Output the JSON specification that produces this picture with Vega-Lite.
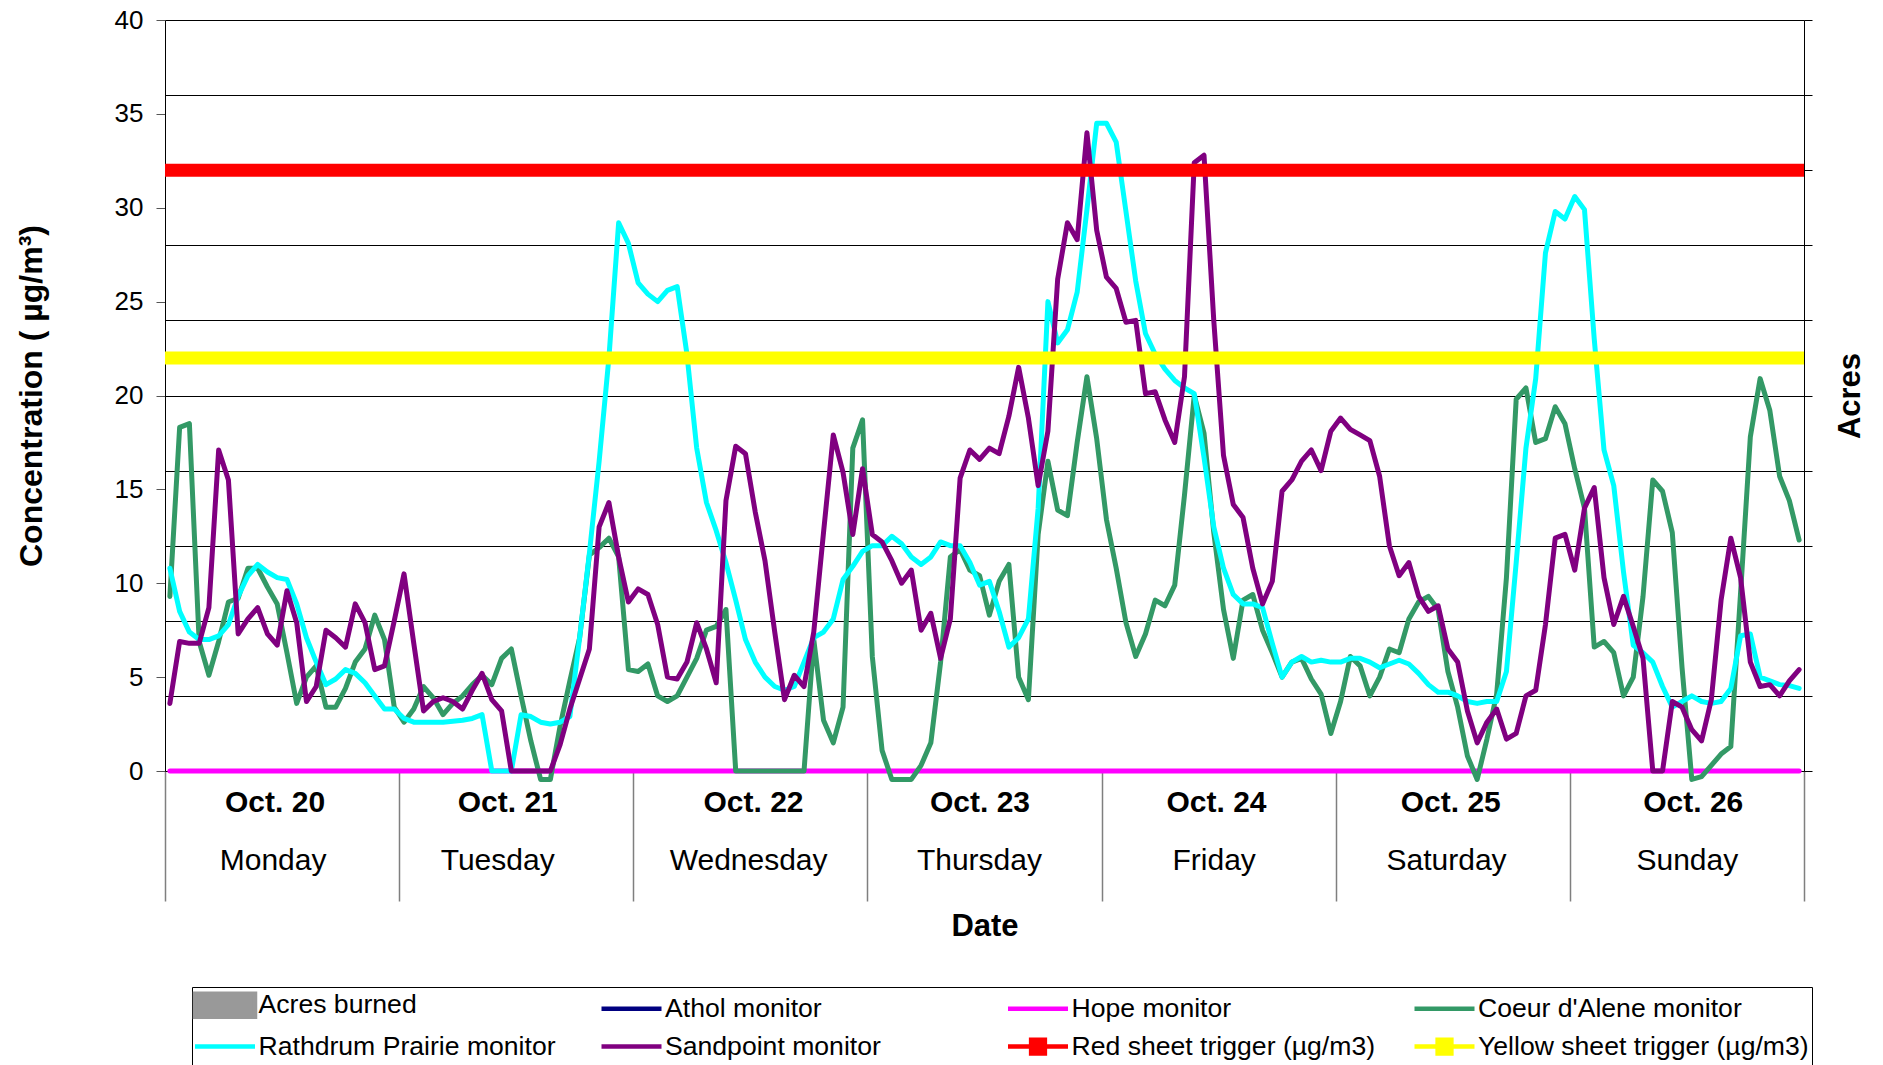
{
"$schema": "https://vega.github.io/schema/vega-lite/v6.json",
"width": 1639, "height": 751,
"autosize": {"type": "none"},
"padding": {"left": 165, "top": 20, "right": 79, "bottom": 294},
"background": "white",
"config": {
  "view": {"stroke": null},
  "font": "Liberation Sans",
  "axis": {"labelFont": "Liberation Sans", "titleFont": "Liberation Sans", "labelColor": "#000", "titleColor": "#000", "domainColor": "#000", "domainWidth": 1, "tickColor": "#000", "labelFlush": false, "labelOverlap": false, "grid": false},
  "legend": {"labelFont": "Liberation Sans"}
},
"data": {"values": [
{"h":0,"cda":9.3,"rp":10.8,"sp":3.6,"hope":0},
{"h":1,"cda":18.3,"rp":8.5,"sp":6.9,"hope":0},
{"h":2,"cda":18.5,"rp":7.4,"sp":6.8,"hope":0},
{"h":3,"cda":6.9,"rp":7.0,"sp":6.8,"hope":0},
{"h":4,"cda":5.1,"rp":7.0,"sp":8.7,"hope":0},
{"h":5,"cda":6.9,"rp":7.2,"sp":17.1,"hope":0},
{"h":6,"cda":9.0,"rp":7.8,"sp":15.5,"hope":0},
{"h":7,"cda":9.2,"rp":9.3,"sp":7.3,"hope":0},
{"h":8,"cda":10.8,"rp":10.4,"sp":8.1,"hope":0},
{"h":9,"cda":10.8,"rp":11.0,"sp":8.7,"hope":0},
{"h":10,"cda":9.8,"rp":10.6,"sp":7.3,"hope":0},
{"h":11,"cda":8.9,"rp":10.3,"sp":6.7,"hope":0},
{"h":12,"cda":6.3,"rp":10.2,"sp":9.6,"hope":0},
{"h":13,"cda":3.6,"rp":8.9,"sp":7.9,"hope":0},
{"h":14,"cda":5.0,"rp":7.1,"sp":3.7,"hope":0},
{"h":15,"cda":5.6,"rp":5.8,"sp":4.5,"hope":0},
{"h":16,"cda":3.4,"rp":4.6,"sp":7.5,"hope":0},
{"h":17,"cda":3.4,"rp":4.9,"sp":7.1,"hope":0},
{"h":18,"cda":4.4,"rp":5.4,"sp":6.6,"hope":0},
{"h":19,"cda":5.8,"rp":5.2,"sp":8.9,"hope":0},
{"h":20,"cda":6.5,"rp":4.7,"sp":7.9,"hope":0},
{"h":21,"cda":8.3,"rp":4.0,"sp":5.4,"hope":0},
{"h":22,"cda":7.0,"rp":3.3,"sp":5.6,"hope":0},
{"h":23,"cda":3.4,"rp":3.3,"sp":8.0,"hope":0},
{"h":24,"cda":2.6,"rp":2.8,"sp":10.5,"hope":0},
{"h":25,"cda":3.3,"rp":2.6,"sp":6.8,"hope":0},
{"h":26,"cda":4.5,"rp":2.6,"sp":3.2,"hope":0},
{"h":27,"cda":3.9,"rp":2.6,"sp":3.7,"hope":0},
{"h":28,"cda":3.0,"rp":2.6,"sp":3.9,"hope":0},
{"h":29,"cda":3.6,"rp":2.65,"sp":3.7,"hope":0},
{"h":30,"cda":4.0,"rp":2.7,"sp":3.3,"hope":0},
{"h":31,"cda":4.6,"rp":2.8,"sp":4.3,"hope":0},
{"h":32,"cda":5.1,"rp":3.0,"sp":5.2,"hope":0},
{"h":33,"cda":4.6,"rp":0,"sp":3.8,"hope":0},
{"h":34,"cda":6.0,"rp":0,"sp":3.2,"hope":0},
{"h":35,"cda":6.5,"rp":0,"sp":0,"hope":0},
{"h":36,"cda":4.0,"rp":3.0,"sp":0,"hope":0},
{"h":37,"cda":1.6,"rp":2.9,"sp":0,"hope":0},
{"h":38,"cda":-0.45,"rp":2.6,"sp":0,"hope":0},
{"h":39,"cda":-0.45,"rp":2.5,"sp":0,"hope":0},
{"h":40,"cda":2.4,"rp":2.6,"sp":1.4,"hope":0},
{"h":41,"cda":4.8,"rp":2.9,"sp":3.3,"hope":0},
{"h":42,"cda":7.1,"rp":7.1,"sp":4.9,"hope":0},
{"h":43,"cda":11.5,"rp":11.6,"sp":6.5,"hope":0},
{"h":44,"cda":11.9,"rp":16.5,"sp":13.0,"hope":0},
{"h":45,"cda":12.4,"rp":22.0,"sp":14.3,"hope":0},
{"h":46,"cda":11.4,"rp":29.2,"sp":11.4,"hope":0},
{"h":47,"cda":5.4,"rp":28.1,"sp":9.0,"hope":0},
{"h":48,"cda":5.3,"rp":26.0,"sp":9.7,"hope":0},
{"h":49,"cda":5.7,"rp":25.4,"sp":9.4,"hope":0},
{"h":50,"cda":4.0,"rp":25.0,"sp":7.8,"hope":0},
{"h":51,"cda":3.7,"rp":25.6,"sp":5.0,"hope":0},
{"h":52,"cda":4.0,"rp":25.8,"sp":4.9,"hope":0},
{"h":53,"cda":5.0,"rp":22.2,"sp":5.8,"hope":0},
{"h":54,"cda":6.0,"rp":17.2,"sp":7.9,"hope":0},
{"h":55,"cda":7.5,"rp":14.3,"sp":6.5,"hope":0},
{"h":56,"cda":7.7,"rp":12.8,"sp":4.7,"hope":0},
{"h":57,"cda":8.6,"rp":11.1,"sp":14.4,"hope":0},
{"h":58,"cda":0,"rp":9.1,"sp":17.3,"hope":0},
{"h":59,"cda":0,"rp":7.0,"sp":16.9,"hope":0},
{"h":60,"cda":0,"rp":5.8,"sp":13.8,"hope":0},
{"h":61,"cda":0,"rp":5.0,"sp":11.2,"hope":0},
{"h":62,"cda":0,"rp":4.5,"sp":7.4,"hope":0},
{"h":63,"cda":0,"rp":4.3,"sp":3.8,"hope":0},
{"h":64,"cda":0,"rp":4.5,"sp":5.1,"hope":0},
{"h":65,"cda":0,"rp":5.8,"sp":4.5,"hope":0},
{"h":66,"cda":7.0,"rp":7.1,"sp":7.4,"hope":0},
{"h":67,"cda":2.7,"rp":7.4,"sp":12.7,"hope":0},
{"h":68,"cda":1.5,"rp":8.1,"sp":17.9,"hope":0},
{"h":69,"cda":3.4,"rp":10.2,"sp":15.9,"hope":0},
{"h":70,"cda":17.2,"rp":10.9,"sp":12.6,"hope":0},
{"h":71,"cda":18.7,"rp":11.7,"sp":16.1,"hope":0},
{"h":72,"cda":6.1,"rp":12.0,"sp":12.6,"hope":0},
{"h":73,"cda":1.1,"rp":12.0,"sp":12.2,"hope":0},
{"h":74,"cda":-0.45,"rp":12.5,"sp":11.2,"hope":0},
{"h":75,"cda":-0.45,"rp":12.1,"sp":10.0,"hope":0},
{"h":76,"cda":-0.45,"rp":11.4,"sp":10.7,"hope":0},
{"h":77,"cda":0.3,"rp":11.0,"sp":7.5,"hope":0},
{"h":78,"cda":1.5,"rp":11.4,"sp":8.4,"hope":0},
{"h":79,"cda":5.8,"rp":12.2,"sp":6.0,"hope":0},
{"h":80,"cda":11.4,"rp":12.0,"sp":8.1,"hope":0},
{"h":81,"cda":11.8,"rp":12.0,"sp":15.6,"hope":0},
{"h":82,"cda":10.7,"rp":11.1,"sp":17.1,"hope":0},
{"h":83,"cda":10.4,"rp":9.9,"sp":16.6,"hope":0},
{"h":84,"cda":8.3,"rp":10.1,"sp":17.2,"hope":0},
{"h":85,"cda":10.1,"rp":8.5,"sp":16.9,"hope":0},
{"h":86,"cda":11.0,"rp":6.6,"sp":18.9,"hope":0},
{"h":87,"cda":5.0,"rp":7.1,"sp":21.5,"hope":0},
{"h":88,"cda":3.8,"rp":8.1,"sp":18.8,"hope":0},
{"h":89,"cda":12.6,"rp":14.0,"sp":15.2,"hope":0},
{"h":90,"cda":16.5,"rp":25.0,"sp":18.1,"hope":0},
{"h":91,"cda":13.9,"rp":22.8,"sp":26.2,"hope":0},
{"h":92,"cda":13.6,"rp":23.5,"sp":29.2,"hope":0},
{"h":93,"cda":17.5,"rp":25.5,"sp":28.3,"hope":0},
{"h":94,"cda":21.0,"rp":29.9,"sp":34.0,"hope":0},
{"h":95,"cda":17.7,"rp":34.5,"sp":28.8,"hope":0},
{"h":96,"cda":13.4,"rp":34.5,"sp":26.3,"hope":0},
{"h":97,"cda":10.8,"rp":33.5,"sp":25.7,"hope":0},
{"h":98,"cda":7.9,"rp":29.8,"sp":23.9,"hope":0},
{"h":99,"cda":6.1,"rp":26.1,"sp":24.0,"hope":0},
{"h":100,"cda":7.3,"rp":23.3,"sp":20.1,"hope":0},
{"h":101,"cda":9.1,"rp":22.2,"sp":20.2,"hope":0},
{"h":102,"cda":8.8,"rp":21.4,"sp":18.7,"hope":0},
{"h":103,"cda":9.9,"rp":20.8,"sp":17.5,"hope":0},
{"h":104,"cda":14.7,"rp":20.4,"sp":21.0,"hope":0},
{"h":105,"cda":20.0,"rp":20.1,"sp":32.4,"hope":0},
{"h":106,"cda":18.0,"rp":16.7,"sp":32.8,"hope":0},
{"h":107,"cda":12.7,"rp":13.0,"sp":24.0,"hope":0},
{"h":108,"cda":8.6,"rp":10.8,"sp":16.8,"hope":0},
{"h":109,"cda":6.0,"rp":9.4,"sp":14.2,"hope":0},
{"h":110,"cda":9.1,"rp":8.9,"sp":13.5,"hope":0},
{"h":111,"cda":9.4,"rp":8.9,"sp":10.8,"hope":0},
{"h":112,"cda":7.5,"rp":8.7,"sp":8.9,"hope":0},
{"h":113,"cda":6.3,"rp":6.8,"sp":10.1,"hope":0},
{"h":114,"cda":5.0,"rp":5.0,"sp":14.9,"hope":0},
{"h":115,"cda":5.8,"rp":5.8,"sp":15.5,"hope":0},
{"h":116,"cda":6.0,"rp":6.1,"sp":16.5,"hope":0},
{"h":117,"cda":4.9,"rp":5.8,"sp":17.1,"hope":0},
{"h":118,"cda":4.1,"rp":5.9,"sp":16.0,"hope":0},
{"h":119,"cda":2.0,"rp":5.8,"sp":18.1,"hope":0},
{"h":120,"cda":3.7,"rp":5.8,"sp":18.8,"hope":0},
{"h":121,"cda":6.1,"rp":6.0,"sp":18.2,"hope":0},
{"h":122,"cda":5.6,"rp":6.0,"sp":17.9,"hope":0},
{"h":123,"cda":4.0,"rp":5.8,"sp":17.6,"hope":0},
{"h":124,"cda":5.0,"rp":5.5,"sp":15.7,"hope":0},
{"h":125,"cda":6.5,"rp":5.7,"sp":12.0,"hope":0},
{"h":126,"cda":6.3,"rp":5.9,"sp":10.4,"hope":0},
{"h":127,"cda":8.1,"rp":5.7,"sp":11.1,"hope":0},
{"h":128,"cda":9.0,"rp":5.2,"sp":9.3,"hope":0},
{"h":129,"cda":9.3,"rp":4.6,"sp":8.5,"hope":0},
{"h":130,"cda":8.6,"rp":4.2,"sp":8.8,"hope":0},
{"h":131,"cda":5.3,"rp":4.2,"sp":6.5,"hope":0},
{"h":132,"cda":3.4,"rp":4.0,"sp":5.8,"hope":0},
{"h":133,"cda":0.8,"rp":3.7,"sp":3.2,"hope":0},
{"h":134,"cda":-0.45,"rp":3.6,"sp":1.5,"hope":0},
{"h":135,"cda":1.7,"rp":3.7,"sp":2.6,"hope":0},
{"h":136,"cda":4.1,"rp":3.7,"sp":3.3,"hope":0},
{"h":137,"cda":10.3,"rp":5.3,"sp":1.7,"hope":0},
{"h":138,"cda":19.8,"rp":11.1,"sp":2.0,"hope":0},
{"h":139,"cda":20.4,"rp":17.2,"sp":4.0,"hope":0},
{"h":140,"cda":17.5,"rp":20.9,"sp":4.3,"hope":0},
{"h":141,"cda":17.7,"rp":27.6,"sp":7.8,"hope":0},
{"h":142,"cda":19.4,"rp":29.8,"sp":12.4,"hope":0},
{"h":143,"cda":18.5,"rp":29.4,"sp":12.6,"hope":0},
{"h":144,"cda":16.1,"rp":30.6,"sp":10.7,"hope":0},
{"h":145,"cda":14.0,"rp":29.9,"sp":14.0,"hope":0},
{"h":146,"cda":6.6,"rp":23.0,"sp":15.1,"hope":0},
{"h":147,"cda":6.9,"rp":17.1,"sp":10.3,"hope":0},
{"h":148,"cda":6.3,"rp":15.2,"sp":7.8,"hope":0},
{"h":149,"cda":4.0,"rp":10.6,"sp":9.3,"hope":0},
{"h":150,"cda":5.0,"rp":6.7,"sp":7.7,"hope":0},
{"h":151,"cda":9.3,"rp":6.3,"sp":6.0,"hope":0},
{"h":152,"cda":15.5,"rp":5.8,"sp":0,"hope":0},
{"h":153,"cda":14.9,"rp":4.5,"sp":0,"hope":0},
{"h":154,"cda":12.7,"rp":3.4,"sp":3.7,"hope":0},
{"h":155,"cda":5.5,"rp":3.7,"sp":3.4,"hope":0},
{"h":156,"cda":-0.45,"rp":4.0,"sp":2.2,"hope":0},
{"h":157,"cda":-0.3,"rp":3.7,"sp":1.6,"hope":0},
{"h":158,"cda":0.3,"rp":3.6,"sp":3.8,"hope":0},
{"h":159,"cda":0.9,"rp":3.7,"sp":9.1,"hope":0},
{"h":160,"cda":1.3,"rp":4.4,"sp":12.4,"hope":0},
{"h":161,"cda":9.5,"rp":7.2,"sp":10.3,"hope":0},
{"h":162,"cda":17.8,"rp":7.3,"sp":5.8,"hope":0},
{"h":163,"cda":20.9,"rp":5.0,"sp":4.5,"hope":0},
{"h":164,"cda":19.2,"rp":4.8,"sp":4.6,"hope":0},
{"h":165,"cda":15.7,"rp":4.6,"sp":4.0,"hope":0},
{"h":166,"cda":14.4,"rp":4.55,"sp":4.8,"hope":0},
{"h":167,"cda":12.3,"rp":4.4,"sp":5.4,"hope":0}
]},
"layer": [
  {
    "mark": {"type": "line", "strokeWidth": 5, "strokeCap": "round", "strokeJoin": "round"},
    "encoding": {
      "x": {"field": "h", "type": "quantitative",
        "scale": {"domain": [-0.5, 167.5], "nice": false, "zero": false},
        "axis": {"orient": "bottom", "values": [-0.5, 23.5, 47.5, 71.5, 95.5, 119.5, 143.5, 167.5], "labels": false, "ticks": true, "tickSize": 130, "tickColor": "#7f7f7f", "tickWidth": 1.5, "domain": true, "domainColor": "#000", "grid": false, "title": null}},
      "y": {"field": "hope", "type": "quantitative",
        "scale": {"domain": [0, 40], "nice": false, "zero": false},
        "axis": {"orient": "left", "values": [0, 5, 10, 15, 20, 25, 30, 35, 40], "grid": false, "tickSize": 9, "tickColor": "#555", "domainColor": "#000", "labelFontSize": 26, "labelPadding": 13, "title": "Concentration ( µg/m³)", "titleFontSize": 32, "titleFontWeight": "bold", "titlePadding": 66}},
      "color": {"datum": "Hope monitor",
        "scale": {"domain": ["Acres burned", "Athol monitor", "Hope monitor", "Coeur d'Alene monitor", "Rathdrum Prairie monitor", "Sandpoint monitor", "Red sheet trigger (µg/m3)", "Yellow sheet trigger (µg/m3)"],
                  "range": ["#999999", "#000080", "#FF00FF", "#339966", "#00FFFF", "#800080", "#FF0000", "#FFFF00"]},
        "legend": {
          "title": " ", "titleOrient": "bottom", "titleFontSize": 20, "titlePadding": 10,
          "orient": "none", "legendX": 27, "legendY": 967,
          "direction": "horizontal", "columns": 4, "gridAlign": "all", "columnPadding": 2.5, "rowPadding": 4.5,
          "padding": 3, "strokeColor": "#000", "fillColor": "#fff",
          "symbolSize": 625, "symbolStrokeWidth": 4.5, "symbolType": "stroke",
          "labelFont": "Liberation Sans", "labelFontSize": 26.6, "labelColor": "#000", "labelOffset": 33.5, "labelLimit": 1000,
          "encode": {"symbols": {"update": {
            "shape": {"signal": "datum.value === 'Acres burned' ? 'M-2.4,-0.92H2.4V0.92H-2.4Z' : (indexof(datum.value, 'trigger') >= 0 ? 'M-2.4,0H2.4M-0.55,-0.55H0.55V0.55H-0.55Z' : 'M-2.4,0H2.4')"},
            "x": {"value": 30},
            "fill": {"signal": "(datum.value === 'Acres burned' || indexof(datum.value, 'trigger') >= 0) ? scale('color', datum.value) : 'transparent'"},
            "stroke": {"signal": "datum.value === 'Acres burned' ? 'transparent' : scale('color', datum.value)"},
            "opacity": {"value": 1}
          }}}
        }}
    }
  },
  {
    "mark": {"type": "line", "strokeWidth": 5, "strokeCap": "round", "strokeJoin": "round"},
    "encoding": {
      "x": {"field": "h", "type": "quantitative",
        "axis": {"orient": "bottom", "values": [10.73, 34.58, 59.77, 82.99, 107.23, 131.24, 156.1], "labelExpr": "'Oct. ' + (20 + floor(datum.value / 24))", "ticks": false, "domain": false, "grid": false, "labelFontSize": 30, "labelFontWeight": "bold", "labelPadding": 16, "title": null}},
      "y": {"field": "cda", "type": "quantitative",
        "axis": {"orient": "right", "values": [0, 4, 8, 12, 16, 20, 24, 28, 32, 36, 40], "grid": true, "gridColor": "#000", "gridWidth": 1, "gridOpacity": 1, "labels": false, "tickSize": 8, "tickColor": "#000", "domainColor": "#000", "title": "Acres", "titleAngle": 270, "titleBaseline": "top", "titleFontSize": 31, "titleFontWeight": "bold", "titlePadding": 23}},
      "color": {"datum": "Coeur d'Alene monitor", "legend": null}
    }
  },
  {
    "mark": {"type": "line", "strokeWidth": 5, "strokeCap": "round", "strokeJoin": "round"},
    "encoding": {
      "x": {"field": "h", "type": "quantitative",
        "axis": {"orient": "bottom", "values": [10.53, 33.55, 59.27, 82.93, 106.99, 130.81, 155.49], "labelExpr": "['Monday', 'Tuesday', 'Wednesday', 'Thursday', 'Friday', 'Saturday', 'Sunday'][floor(datum.value / 24)]", "ticks": false, "domain": false, "grid": false, "labelFontSize": 30, "labelPadding": 74, "title": "Date", "titleFontSize": 31, "titleFontWeight": "bold", "titlePadding": 36}},
      "y": {"field": "rp", "type": "quantitative", "axis": null},
      "color": {"datum": "Rathdrum Prairie monitor", "legend": null}
    }
  },
  {
    "mark": {"type": "line", "strokeWidth": 5, "strokeCap": "round", "strokeJoin": "round"},
    "encoding": {
      "x": {"field": "h", "type": "quantitative", "axis": null},
      "y": {"field": "sp", "type": "quantitative", "axis": null},
      "color": {"datum": "Sandpoint monitor", "legend": null}
    }
  },
  {
    "data": {"values": [
      {"trigger": "Red sheet trigger (µg/m3)", "level": 32},
      {"trigger": "Yellow sheet trigger (µg/m3)", "level": 22}
    ]},
    "mark": {"type": "rule", "strokeWidth": 13},
    "encoding": {
      "y": {"field": "level", "type": "quantitative", "axis": null},
      "color": {"field": "trigger", "type": "nominal", "legend": null}
    }
  }
],
"resolve": {"axis": {"x": "independent", "y": "independent"}}
}
